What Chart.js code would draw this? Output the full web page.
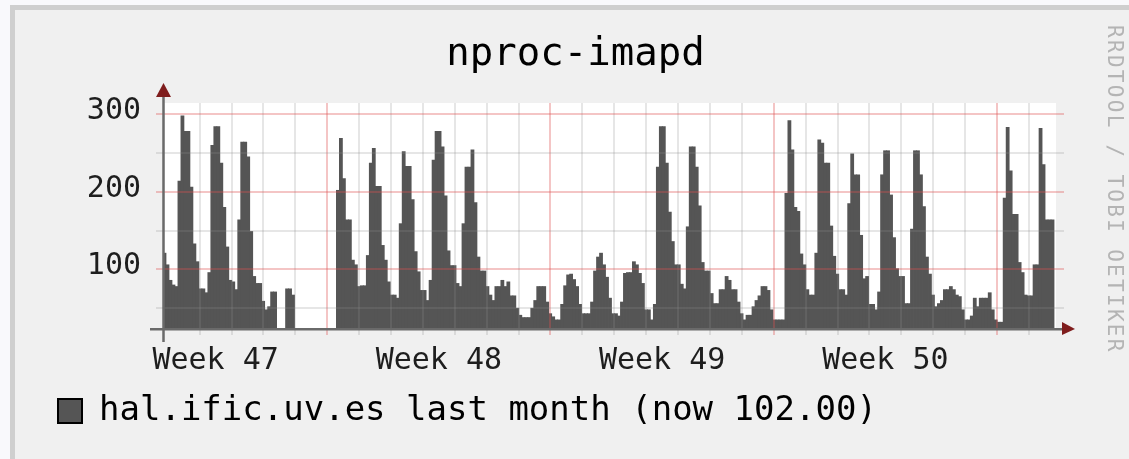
<!DOCTYPE html>
<html>
<head>
<meta charset="utf-8">
<title>nproc-imapd</title>
<script src="https://cdn.jsdelivr.net/npm/chart.js@4/dist/chart.umd.min.js"></script>
<style>
    html, body { margin: 0; padding: 0; }
    body { width: 1129px; height: 459px; background: #f9f9fc; position: relative; overflow: hidden; }
    #frame { position: absolute; left: 10px; top: 5px; right: 0; bottom: 0; background: #f0f0f0; border-top: 5px solid #cfcfcf; border-left: 5px solid #cfcfcf; }
    #chart { position: absolute; left: 0; top: 0; }
    #credit { position: absolute; left: 1104px; top: 25px; writing-mode: vertical-rl; font: 21px 'DejaVu Sans Mono', monospace; letter-spacing: 2.3px; line-height: 22px; color: #b4b4b4; white-space: nowrap; }
</style>
</head>
<body>
<div id="frame"></div>
<canvas id="chart" width="1129" height="459"></canvas>
<div id="credit">RRDTOOL / TOBI OETIKER</div>
<script>
const chartTitle = 'nproc-imapd';
const legendText = 'hal.ific.uv.es last month (now 102.00)';
const weekLabels = ['Week 47', 'Week 48', 'Week 49', 'Week 50'];
const yTickValues = [50, 100, 150, 200, 250, 300];
const yLabelValues = [100, 200, 300];

// one value per 2.25 h sample, null = unknown
const nprocImapd = [
    121, 106, 86, 80, 78, 214, 298, 278, 278, 206,
    133, 110, 75, 75, 70, 96, 260, 284, 284, 237,
    180, 129, 86, 84, 74, 164, 264, 264, 245, 149,
    91, 82, 82, 59, 48, 52, 71, 71, null, null,
    null, 75, 75, 67, null, null, null, null, null, null,
    null, null, null, null, null, null, null, null, 202, 269,
    217, 164, 164, 112, 106, 78, 79, 79, 118, 237,
    256, 207, 207, 131, 112, 84, 67, 67, 63, 159,
    252, 233, 233, 190, 123, 97, 73, 73, 60, 86,
    241, 278, 278, 258, 195, 124, 105, 105, 82, 78,
    159, 232, 232, 254, 186, 116, 98, 98, 78, 67,
    60, 78, 78, 86, 78, 84, 66, 66, 50, 41,
    38, 38, 38, 50, 60, 78, 78, 78, 58, 43,
    39, 35, 35, 55, 79, 93, 94, 87, 78, 55,
    43, 43, 43, 58, 98, 116, 121, 106, 90, 63,
    43, 43, 40, 58, 95, 96, 96, 110, 106, 95,
    82, 48, 48, 35, 55, 232, 284, 284, 237, 174,
    136, 106, 106, 81, 75, 155, 258, 258, 232, 182,
    109, 98, 98, 69, 56, 56, 74, 74, 91, 86,
    74, 74, 58, 43, 35, 41, 41, 52, 60, 66,
    78, 78, 73, 48, 35, 35, 35, 35, 198, 292,
    254, 180, 175, 120, 106, 74, 67, 67, 121, 267,
    263, 237, 237, 156, 117, 94, 74, 74, 67, 185,
    249, 222, 222, 144, 88, 91, 55, 55, 48, 71,
    222, 253, 253, 196, 141, 101, 91, 91, 56, 56,
    152, 253, 253, 222, 181, 116, 94, 67, 52, 56,
    60, 74, 74, 78, 74, 67, 65, 48, 35, 35,
    40, 63, 52, 63, 63, 63, 70, 48, 35, 32,
    32, 192, 283, 227, 171, 171, 109, 96, 67, 66,
    66, 106, 106, 282, 235, 164, 164, 164
];

const sampleHours = 2.25;
const spanHours = 672;        // 28 days
const firstMidnight = 3.6;    // hours after graph start
const yMin = 23.3;
const yMax = 314.6;

const mono = "'DejaVu Sans Mono', monospace";
const areaColor = '#555555';
const majorGrid = 'rgba(222, 79, 79, 0.33)';
const minorGrid = 'rgba(143, 143, 143, 0.22)';
const noGrid = 'rgba(0, 0, 0, 0)';
const axisColor = '#6a6a6a';
const arrowColor = '#7f1d1d';

// time axis: a grey line each midnight, red on mondays, labels mid-week
const firstMonday = firstMidnight + 5 * 24;
const dayTicks = [];
for (let h = firstMidnight + 24; h < spanHours; h += 24) dayTicks.push(h);
const weekCenters = weekLabels.map((_, k) => firstMonday - 168 + 84 + k * 168);
const xTicks = dayTicks.concat(weekCenters).sort((a, b) => a - b);

const near = (a, b) => Math.abs(a - b) < 0.01;
const isWeekCenter = v => weekCenters.some(c => near(c, v));
const isMonday = v => {
    const r = ((v - firstMonday) % 168 + 168) % 168;
    return near(r, 0) || near(r, 168);
};

function xGridColor(ctx) {
    const v = ctx.tick ? ctx.tick.value : null;
    if (v === null || isWeekCenter(v)) return noGrid;
    return isMonday(v) ? majorGrid : minorGrid;
}

function yGridColor(ctx) {
    const v = ctx.tick ? ctx.tick.value : null;
    if (v === null) return noGrid;
    return yLabelValues.includes(v) ? majorGrid : minorGrid;
}

const barData = nprocImapd.map((v, i) => ({ x: (i + 0.5) * sampleHours, y: v }));

const canvasBackground = {
    id: 'canvasBackground',
    beforeDraw(chart) {
        const { ctx, chartArea: a } = chart;
        ctx.save();
        ctx.fillStyle = '#ffffff';
        ctx.fillRect(a.left, a.top, a.right - a.left, a.bottom - a.top);
        ctx.restore();
    }
};

// rrdtool style axes with arrow heads
const rrdAxes = {
    id: 'rrdAxes',
    afterDraw(chart) {
        const { ctx, chartArea: a } = chart;
        ctx.save();
        ctx.strokeStyle = axisColor;
        ctx.lineWidth = 2.5;
        ctx.beginPath();
        ctx.moveTo(a.left - 13, a.bottom + 0.3);
        ctx.lineTo(a.right + 7, a.bottom + 0.3);
        ctx.moveTo(a.left + 0.5, a.bottom + 13);
        ctx.lineTo(a.left + 0.5, a.top - 6);
        ctx.stroke();

        ctx.fillStyle = arrowColor;
        ctx.beginPath();
        ctx.moveTo(a.right + 19, a.bottom);
        ctx.lineTo(a.right + 6, a.bottom - 7);
        ctx.lineTo(a.right + 6, a.bottom + 6);
        ctx.closePath();
        ctx.fill();
        ctx.beginPath();
        ctx.moveTo(a.left + 0.5, a.top - 20);
        ctx.lineTo(a.left - 7, a.top - 6);
        ctx.lineTo(a.left + 8, a.top - 6);
        ctx.closePath();
        ctx.fill();
        ctx.restore();
    }
};

new Chart(document.getElementById('chart'), {
    type: 'bar',
    data: {
        datasets: [{
            label: legendText,
            data: barData,
            backgroundColor: areaColor,
            borderWidth: 0,
            barPercentage: 1,
            categoryPercentage: 1,
            inflateAmount: 0.4,
            clip: 0
        }]
    },
    options: {
        responsive: false,
        animation: false,
        events: [],
        devicePixelRatio: 1,
        layout: { padding: { left: 48, right: 26, top: 0, bottom: 21 } },
        plugins: {
            title: {
                display: true,
                text: chartTitle,
                color: '#000000',
                font: { family: mono, size: 39, weight: 'normal', lineHeight: 1.2 },
                padding: { top: 31, bottom: 25.2 }
            },
            legend: {
                display: true,
                position: 'bottom',
                align: 'start',
                labels: {
                    font: { family: mono, size: 34 },
                    color: '#111111',
                    boxWidth: 24,
                    boxHeight: 24,
                    padding: 10,
                    generateLabels: () => [{
                        text: legendText,
                        fillStyle: areaColor,
                        strokeStyle: '#000000',
                        lineWidth: 2,
                        hidden: false,
                        datasetIndex: 0
                    }]
                }
            },
            tooltip: { enabled: false }
        },
        scales: {
            x: {
                type: 'linear',
                min: 0,
                max: spanHours,
                offset: false,
                afterBuildTicks: s => { s.ticks = xTicks.map(v => ({ value: v })); },
                afterFit: s => { s.height = 55; },
                grid: { offset: false, z: 1, lineWidth: 2, color: xGridColor, tickLength: 6 },
                border: { display: false },
                ticks: {
                    autoSkip: false,
                    maxRotation: 0,
                    minRotation: 0,
                    padding: 8,
                    color: '#1e1e1e',
                    font: { family: mono, size: 30 },
                    callback: v => {
                        const k = weekCenters.findIndex(c => near(c, v));
                        return k >= 0 ? weekLabels[k] : '';
                    }
                }
            },
            y: {
                type: 'linear',
                min: yMin,
                max: yMax,
                afterBuildTicks: s => { s.ticks = yTickValues.map(v => ({ value: v })); },
                afterFit: s => { s.width = 115; },
                grid: { z: 1, lineWidth: 2, color: yGridColor, tickLength: 7 },
                border: { display: false },
                ticks: {
                    padding: 15,
                    labelOffset: -3,
                    color: '#1e1e1e',
                    font: { family: mono, size: 30 },
                    callback: v => yLabelValues.includes(v) ? String(v) : ''
                }
            },
            yRight: {
                type: 'linear',
                position: 'right',
                min: yMin,
                max: yMax,
                afterBuildTicks: s => { s.ticks = yTickValues.map(v => ({ value: v })); },
                afterFit: s => { s.width = 47; },
                grid: { drawOnChartArea: false, lineWidth: 2, color: yGridColor, tickLength: 8 },
                border: { display: false },
                ticks: { display: false }
            }
        }
    },
    plugins: [canvasBackground, rrdAxes]
});
</script>
</body>
</html>
